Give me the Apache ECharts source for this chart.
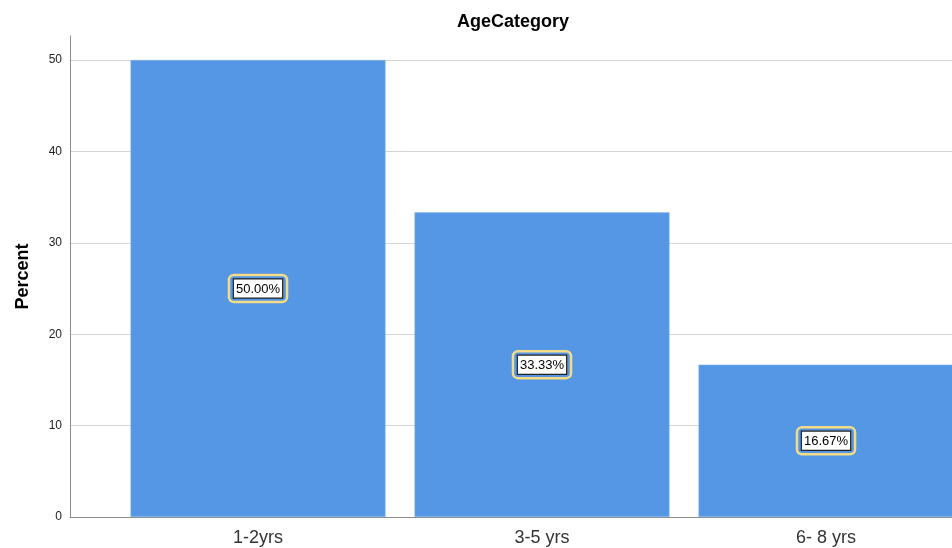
<!DOCTYPE html>
<html><head><meta charset="utf-8">
<script src="https://cdn.jsdelivr.net/npm/echarts@6/dist/echarts.min.js"></script>
<style>html,body{margin:0;padding:0;background:#fff}#c{width:952px;height:548px}</style>
</head><body><div id="c"></div>
<script>
const categories = ['1-2yrs', '3-5 yrs', '6- 8 yrs'];
const percents = [50.00, 33.33, 16.67];
const yTicks = [0, 10, 20, 30, 40, 50];

const chart = echarts.init(document.getElementById('c'));
const font = 'Liberation Sans, Arial, sans-serif';
chart.setOption({
  animation: false,
  title: { text: 'AgeCategory', left: 508, top: 8, textAlign: 'center',
    textStyle: { fontFamily: font, fontSize: 18, fontWeight: 'bold', color: '#000' } },
  grid: [
    { left: 70, right: 0, top: 60, bottom: 31, outerBoundsMode: 'none' },
    { left: 116, width: 852, top: 60, bottom: 31, outerBoundsMode: 'none' },
    { left: 70, right: 0, top: 36, bottom: 31, outerBoundsMode: 'none' }
  ],
  xAxis: [
    { gridIndex: 0, type: 'category', data: [''], axisLine: { show: true, lineStyle: { color: '#8c8c8c', width: 1 } },
      axisTick: { show: false }, axisLabel: { show: false } },
    { gridIndex: 1, type: 'category', data: categories, axisLine: { show: false }, axisTick: { show: false },
      axisLabel: { fontFamily: font, fontSize: 18, color: '#333', margin: 12 } },
    { gridIndex: 2, type: 'category', data: [''], show: false }
  ],
  yAxis: [
    { gridIndex: 0, type: 'value', min: yTicks[0], max: yTicks[yTicks.length - 1], interval: 10,
      axisLine: { show: false }, axisTick: { show: false },
      axisLabel: { fontFamily: font, fontSize: 12, color: '#222', margin: 8 },
      splitLine: { show: true, lineStyle: { color: '#d4d4d4', width: 1 } } },
    { gridIndex: 1, type: 'value', min: yTicks[0], max: yTicks[yTicks.length - 1], show: false },
    { gridIndex: 2, type: 'value', min: 0, max: 52.6,
      axisLine: { show: true, lineStyle: { color: '#8c8c8c', width: 1 } }, axisTick: { show: false },
      axisLabel: { show: false }, splitLine: { show: false },
      name: 'Percent', nameLocation: 'middle', nameGap: 38,
      nameTextStyle: { fontFamily: font, fontSize: 18, fontWeight: 'bold', color: '#000' } }
  ],
  series: [{
    type: 'bar', xAxisIndex: 1, yAxisIndex: 1, data: percents, barWidth: 255,
    itemStyle: { color: '#5596e5', borderColor: '#8db8ee', borderWidth: 0.5 },
    label: {
      show: true, position: 'inside',
      formatter: p => '{a|' + p.value.toFixed(2) + '%}',
      borderColor: '#f5dc86', borderWidth: 2.5, borderRadius: 5, padding: [6, 5],
      rich: { a: { fontFamily: font, fontSize: 13, lineHeight: 15, color: '#000', backgroundColor: '#fff',
        borderColor: '#222', borderWidth: 1.2, padding: [3, 2, 2, 2] } }
    }
  }]
});
</script></body></html>
